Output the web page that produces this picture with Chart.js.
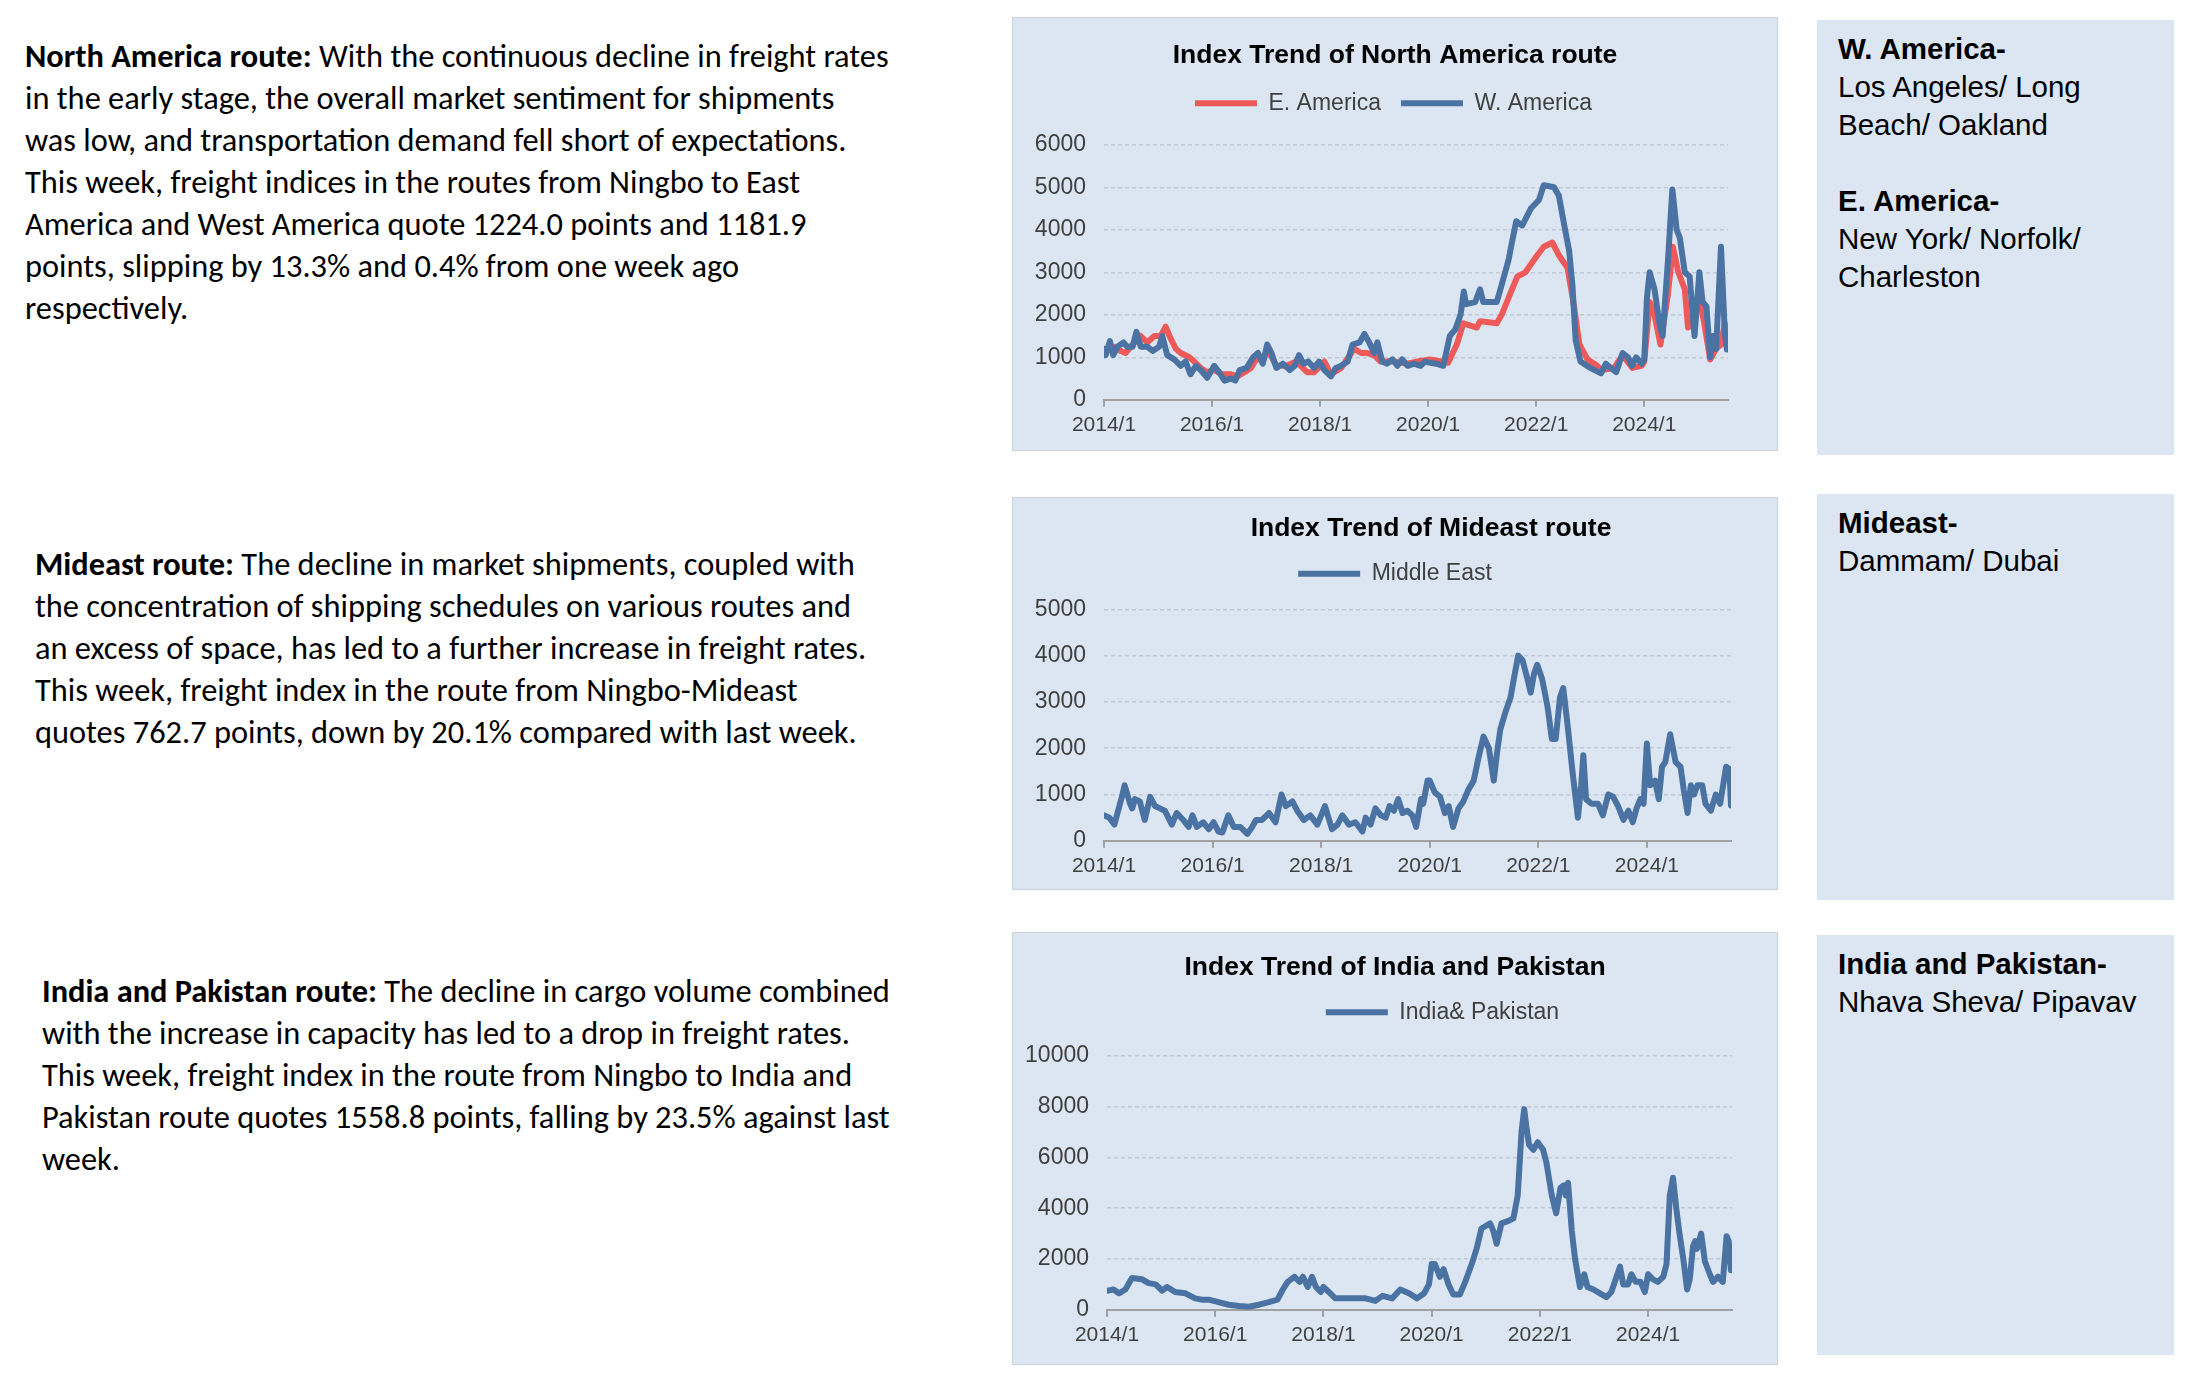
<!DOCTYPE html>
<html>
<head>
<meta charset="utf-8">
<title>Ningbo freight index routes</title>
<script src="https://cdn.jsdelivr.net/npm/chart.js@4.4.1/dist/chart.umd.min.js"></script>
<style>
  body { margin: 0; width: 2185px; height: 1374px; background: #fff; position: relative; overflow: hidden; }
  .para { position: absolute; font-family: Carlito, Lato, sans-serif; font-size: 32.4px; line-height: 42px; color: #000; white-space: nowrap; }
  .para b { font-weight: 700; }
  .chartBox { position: absolute; left: 1012px; width: 766px; background: #DCE6F2; border: 1px solid #C9D1DB; box-sizing: border-box; }
  .portBox { position: absolute; left: 1817px; width: 357px; background: #DCE6F2; font-family: "Liberation Sans", Arial, sans-serif; font-size: 29.5px; line-height: 38px; color: #000; padding: 10px 0 0 21px; box-sizing: border-box; }
</style>
</head>
<body>

<div class="para" style="left:25px; top:35px;">
<b>North America route:</b> With the continuous decline in freight rates<br>
in the early stage, the overall market sentiment for shipments<br>
was low, and transportation demand fell short of expectations.<br>
This week, freight indices in the routes from Ningbo to East<br>
America and West America quote 1224.0 points and 1181.9<br>
points, slipping by 13.3% and 0.4% from one week ago<br>
respectively.
</div>

<div class="para" style="left:35px; top:543px;">
<b>Mideast route:</b> The decline in market shipments, coupled with<br>
the concentration of shipping schedules on various routes and<br>
an excess of space, has led to a further increase in freight rates.<br>
This week, freight index in the route from Ningbo-Mideast<br>
quotes 762.7 points, down by 20.1% compared with last week.
</div>

<div class="para" style="left:42px; top:970px;">
<b>India and Pakistan route:</b> The decline in cargo volume combined<br>
with the increase in capacity has led to a drop in freight rates.<br>
This week, freight index in the route from Ningbo to India and<br>
Pakistan route quotes 1558.8 points, falling by 23.5% against last<br>
week.
</div>

<div class="chartBox" style="top:17px; height:434px;"><canvas id="naChart"></canvas></div>
<div class="chartBox" style="top:497px; height:393px;"><canvas id="meChart"></canvas></div>
<div class="chartBox" style="top:932px; height:433px;"><canvas id="ipChart"></canvas></div>

<div class="portBox" style="top:20px; height:435px;">
<b>W. America-</b><br>Los Angeles/ Long<br>Beach/ Oakland<br><br><b>E. America-</b><br>New York/ Norfolk/<br>Charleston
</div>
<div class="portBox" style="top:494px; height:406px;">
<b>Mideast-</b><br>Dammam/ Dubai
</div>
<div class="portBox" style="top:935px; height:420px;">
<b>India and Pakistan-</b><br>Nhava Sheva/ Pipavav
</div>

<script>
// x positions are decimal years
const xTickYears = [2014, 2016, 2018, 2020, 2022, 2024];
const xMin = 2014;
const xMax = 2025.55;

const westDates = [2014.00,2014.03,2014.11,2014.17,2014.25,2014.36,2014.43,2014.53,2014.60,2014.68,2014.80,2014.90,2015.02,2015.08,2015.17,2015.30,2015.42,2015.51,2015.60,2015.70,2015.79,2015.91,2016.04,2016.13,2016.23,2016.35,2016.43,2016.51,2016.64,2016.76,2016.85,2016.94,2017.02,2017.10,2017.19,2017.31,2017.44,2017.53,2017.61,2017.69,2017.78,2017.89,2017.98,2018.08,2018.20,2018.29,2018.39,2018.51,2018.60,2018.73,2018.82,2018.91,2019.00,2019.06,2019.15,2019.24,2019.34,2019.43,2019.52,2019.62,2019.74,2019.86,2019.94,2020.00,2020.15,2020.28,2020.40,2020.50,2020.60,2020.66,2020.70,2020.87,2020.96,2021.02,2021.27,2021.36,2021.49,2021.55,2021.63,2021.74,2021.90,2022.05,2022.14,2022.33,2022.42,2022.52,2022.61,2022.67,2022.73,2022.82,2023.00,2023.20,2023.29,2023.38,2023.48,2023.60,2023.70,2023.77,2023.85,2023.95,2024.00,2024.05,2024.10,2024.19,2024.28,2024.34,2024.44,2024.52,2024.60,2024.66,2024.75,2024.84,2024.93,2025.02,2025.08,2025.15,2025.22,2025.27,2025.33,2025.42,2025.49,2025.53];
const westValues = [1200,1050,1380,1050,1250,1350,1250,1250,1600,1250,1250,1150,1250,1500,1050,950,800,900,600,800,700,520,800,650,450,500,450,700,750,1000,1100,850,1300,1100,750,850,700,800,1050,850,900,750,900,700,550,750,800,900,1300,1350,1550,1350,1100,1350,900,850,950,800,950,800,850,800,900,880,850,800,1500,1650,2000,2550,2250,2300,2600,2300,2300,2700,3300,3700,4200,4100,4500,4700,5050,5000,4800,4100,3500,2700,1400,900,750,620,850,750,650,1100,1000,800,1000,850,950,2400,3000,2600,1800,1500,3300,4950,4000,3800,3000,2900,1500,3000,2300,2200,1000,1500,1200,3600,1600,1182];

const eastDates = [2014.00,2014.18,2014.31,2014.40,2014.53,2014.68,2014.80,2014.93,2015.05,2015.14,2015.23,2015.33,2015.42,2015.58,2015.67,2015.79,2015.91,2016.04,2016.19,2016.35,2016.47,2016.60,2016.72,2016.84,2016.94,2017.02,2017.19,2017.38,2017.56,2017.76,2017.89,2018.08,2018.20,2018.39,2018.63,2018.76,2018.88,2019.00,2019.12,2019.37,2019.62,2019.80,2020.03,2020.25,2020.37,2020.53,2020.65,2020.90,2020.96,2021.27,2021.36,2021.52,2021.65,2021.80,2022.02,2022.14,2022.30,2022.42,2022.58,2022.70,2022.80,2022.95,2023.13,2023.20,2023.44,2023.60,2023.78,2023.95,2024.00,2024.10,2024.19,2024.30,2024.44,2024.53,2024.63,2024.75,2024.81,2024.90,2025.02,2025.11,2025.22,2025.33,2025.42,2025.49,2025.53];
const eastValues = [1100,1250,1150,1100,1300,1500,1350,1500,1500,1720,1450,1200,1100,1000,900,750,650,700,600,600,550,650,750,1000,900,1200,800,800,900,650,650,900,600,750,1200,1100,1100,1050,900,900,850,900,950,900,870,1300,1800,1700,1850,1800,2000,2500,2900,3000,3400,3600,3700,3400,3100,2200,1300,950,800,700,750,1050,750,800,900,2300,2000,1300,2500,3600,3000,2600,1700,1800,2400,1800,950,1200,1300,1800,1224];

const mideastDates = [2014.00,2014.10,2014.19,2014.26,2014.33,2014.38,2014.48,2014.52,2014.57,2014.66,2014.75,2014.85,2014.94,2015.03,2015.12,2015.25,2015.34,2015.46,2015.56,2015.63,2015.71,2015.83,2015.93,2016.02,2016.11,2016.18,2016.29,2016.39,2016.51,2016.64,2016.73,2016.80,2016.91,2017.04,2017.16,2017.27,2017.35,2017.47,2017.56,2017.68,2017.80,2017.93,2018.07,2018.20,2018.30,2018.39,2018.51,2018.63,2018.76,2018.82,2018.91,2019.00,2019.10,2019.19,2019.26,2019.34,2019.42,2019.50,2019.59,2019.68,2019.75,2019.84,2019.88,2019.96,2020.00,2020.09,2020.19,2020.28,2020.35,2020.43,2020.53,2020.62,2020.71,2020.81,2020.90,2020.99,2021.09,2021.18,2021.24,2021.30,2021.40,2021.49,2021.55,2021.63,2021.71,2021.80,2021.86,2021.92,2021.98,2022.07,2022.17,2022.25,2022.32,2022.40,2022.46,2022.54,2022.63,2022.73,2022.79,2022.83,2022.88,2022.98,2023.10,2023.19,2023.29,2023.38,2023.47,2023.57,2023.66,2023.74,2023.81,2023.88,2023.94,2024.00,2024.06,2024.15,2024.22,2024.28,2024.34,2024.43,2024.53,2024.62,2024.68,2024.75,2024.81,2024.87,2024.93,2025.02,2025.08,2025.18,2025.27,2025.35,2025.46,2025.52,2025.55];
const mideastValues = [550,500,350,650,950,1200,800,700,900,850,450,950,750,700,650,350,600,450,300,550,300,400,250,400,200,180,550,300,300,150,300,450,450,600,400,1000,750,850,650,450,550,350,750,250,350,550,350,400,200,500,350,700,550,500,750,650,900,600,650,550,300,900,800,1300,1300,1050,950,600,750,300,700,850,1100,1300,1800,2250,2000,1300,1900,2400,2800,3100,3500,4000,3900,3500,3200,3600,3800,3500,2900,2200,2200,3100,3300,2500,1500,500,1200,1850,900,800,800,550,1000,950,750,450,650,400,700,900,800,2100,1200,1300,900,1600,1700,2300,1700,1600,1100,600,1200,1000,1200,1200,800,650,1000,800,1600,1550,763];

const indiaDates = [2014.00,2014.12,2014.22,2014.34,2014.46,2014.65,2014.77,2014.90,2015.02,2015.11,2015.26,2015.45,2015.63,2015.75,2015.88,2016.06,2016.25,2016.44,2016.62,2016.81,2016.99,2017.15,2017.25,2017.34,2017.46,2017.56,2017.62,2017.71,2017.79,2017.86,2017.95,2018.00,2018.10,2018.22,2018.47,2018.78,2018.96,2019.09,2019.27,2019.42,2019.58,2019.73,2019.86,2019.95,2020.00,2020.06,2020.15,2020.22,2020.31,2020.40,2020.52,2020.62,2020.74,2020.83,2020.92,2021.08,2021.14,2021.20,2021.29,2021.42,2021.51,2021.59,2021.66,2021.71,2021.75,2021.80,2021.88,2021.96,2022.06,2022.12,2022.22,2022.30,2022.38,2022.44,2022.48,2022.52,2022.59,2022.65,2022.74,2022.82,2022.88,2022.99,2023.11,2023.23,2023.32,2023.40,2023.48,2023.54,2023.63,2023.69,2023.77,2023.86,2023.94,2024.00,2024.09,2024.18,2024.28,2024.34,2024.40,2024.46,2024.52,2024.58,2024.65,2024.72,2024.77,2024.83,2024.87,2024.90,2024.98,2025.05,2025.14,2025.20,2025.29,2025.38,2025.45,2025.49,2025.53];
const indiaValues = [750,800,650,800,1250,1200,1050,1000,750,900,700,650,450,400,400,300,200,150,120,200,300,400,800,1100,1300,1100,1300,900,1300,900,700,900,700,450,450,450,350,550,450,800,650,450,650,1000,1800,1800,1300,1600,1000,600,600,1100,1800,2400,3200,3400,3100,2600,3400,3500,3600,4500,7000,7900,7200,6500,6300,6600,6300,5800,4500,3800,4800,4900,4500,5000,3100,2000,900,1400,900,800,650,500,700,1200,1700,1000,1000,1400,1100,1100,700,1400,1200,1100,1300,1800,4500,5200,4000,3000,2000,800,1200,2500,2700,2400,3000,1900,1400,1100,1300,1100,2900,2700,1559];

const blue = "#4A72A2";
const red = "#EE5A5A";

Chart.defaults.font.family = "'Liberation Sans', Arial, sans-serif";
Chart.defaults.color = "#404040";

// moves title / legend after layout, so the plot area stays where it is
const shiftPlugin = {
  id: "shiftBlocks",
  afterLayout(chart, args, opts) {
    const t = chart.titleBlock;
    const l = chart.legend;
    if (t) {
      t.left += opts.titleX || 0; t.right += opts.titleX || 0;
      t.top += opts.titleY || 0; t.bottom += opts.titleY || 0;
    }
    if (l) {
      l.left += opts.legendX || 0; l.right += opts.legendX || 0;
      l.top += opts.legendY || 0; l.bottom += opts.legendY || 0;
    }
  }
};

function toPoints(dates, values) {
  const pts = [];
  for (let i = 0; i < dates.length; i++) {
    pts.push({x: dates[i], y: values[i]});
  }
  return pts;
}

function lineSet(label, dates, values, color, order) {
  return {
    label: label,
    data: toPoints(dates, values),
    borderColor: color,
    backgroundColor: color,
    borderWidth: 6,
    borderCapStyle: "round",
    borderJoinStyle: "round",
    pointRadius: 0,
    pointStyle: "line",
    tension: 0,
    order: order
  };
}

function makeChart(id, title, datasets, yMax, yStep, box) {
  const config = {
    type: "line",
    data: {datasets: datasets},
    plugins: [shiftPlugin],
    options: {
      responsive: true,
      maintainAspectRatio: false,
      animation: false,
      layout: {padding: {left: 0, right: box.right, top: 0, bottom: box.bottom}},
      plugins: {
        title: {
          display: true,
          text: title,
          color: "#000",
          font: {size: 26.5, weight: "bold"},
          padding: {top: box.titleTop, bottom: box.titleBottom}
        },
        legend: {
          display: true,
          labels: {
            usePointStyle: true,
            pointStyleWidth: 62,
            padding: box.legendPad,
            color: "#404040",
            font: {size: 23},
            sort: (a, b) => a.datasetIndex - b.datasetIndex
          }
        },
        tooltip: {enabled: false},
        shiftBlocks: box.shift
      },
      scales: {
        x: {
          type: "linear",
          min: xMin,
          max: xMax,
          afterBuildTicks: (scale) => {
            scale.ticks = xTickYears.map(v => ({value: v}));
          },
          ticks: {
            callback: (value) => value + "/1",
            font: {size: 21},
            color: "#404040",
            padding: 6,
            maxRotation: 0
          },
          grid: {drawOnChartArea: false, drawTicks: true, tickLength: 7, color: "#A0A0A0", lineWidth: 2},
          border: {display: true, color: "#A0A0A0", width: 2}
        },
        y: {
          min: 0,
          max: yMax,
          afterFit: (scale) => { scale.width = box.left; },
          ticks: {stepSize: yStep, font: {size: 23}, color: "#404040", padding: 18, callback: (value) => String(value)},
          grid: {drawTicks: false, color: "#C3CAD4", lineWidth: 1.5},
          border: {display: false, dash: [4, 3]}
        }
      }
    }
  };
  return new Chart(document.getElementById(id), config);
}

makeChart("naChart", "Index Trend of North America route", [
  lineSet("E. America", eastDates, eastValues, red, 1),
  lineSet("W. America", westDates, westValues, blue, 0)
], 6000, 1000, {left: 91, right: 49, bottom: 6, titleTop: 22, titleBottom: 20, legendPad: 20,
  shift: {titleX: 24.5, legendX: 23, legendY: -20}});

makeChart("meChart", "Index Trend of Mideast route", [
  lineSet("Middle East", mideastDates, mideastValues, blue, 0)
], 5000, 1000, {left: 91, right: 46, bottom: 4, titleTop: 15, titleBottom: 17, legendPad: 14.5,
  shift: {titleX: 59, legendX: 23, legendY: -14}});

makeChart("ipChart", "Index Trend of India and Pakistan", [
  lineSet("India& Pakistan", indiaDates, indiaValues, blue, 0)
], 10000, 2000, {left: 94, right: 45, bottom: 10, titleTop: 22, titleBottom: 16, legendPad: 20,
  shift: {titleX: 22.5, titleY: -3, legendX: 70, legendY: -22}});
</script>
</body>
</html>
